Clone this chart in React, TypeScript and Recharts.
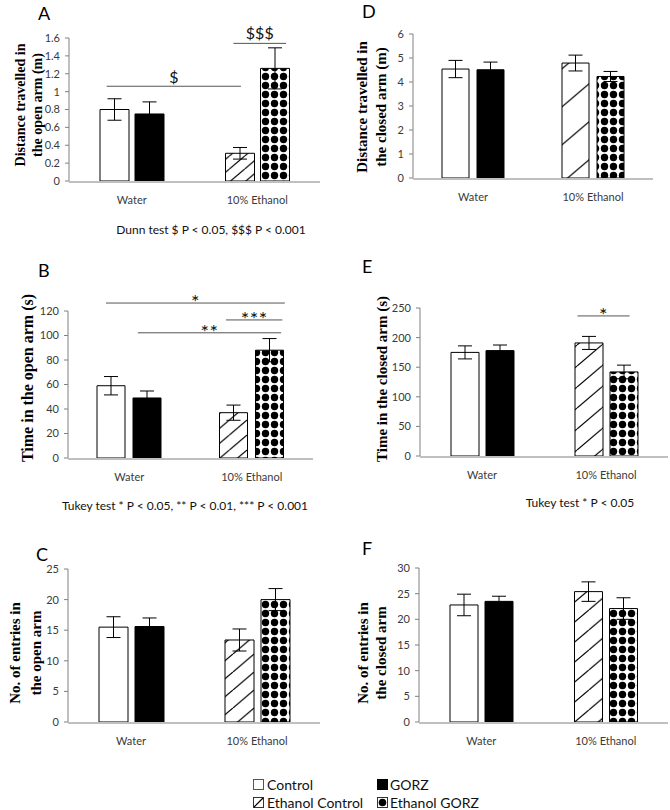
import React from 'react';
import { Bar, BarChart, Cell, ErrorBar, ReferenceDot, ReferenceLine, XAxis, YAxis } from 'recharts';

const groups = ['Water', '10% Ethanol'];

// A: distance travelled in the open arm (m)
const openDistControl = [0.8, 0.31];
const openDistControlErr = [0.12, 0.065];
const openDistGorz = [0.75, 1.26];
const openDistGorzErr = [0.135, 0.23];
const openDistTicks = [0, 0.2, 0.4, 0.6, 0.8, 1, 1.2, 1.4, 1.6];

// D: distance travelled in the closed arm (m)
const closedDistControl = [4.54, 4.79];
const closedDistControlErr = [0.36, 0.33];
const closedDistGorz = [4.51, 4.23];
const closedDistGorzErr = [0.32, 0.21];
const closedDistTicks = [0, 1, 2, 3, 4, 5, 6];

// B: time in the open arm (s)
const openTimeControl = [59, 37];
const openTimeControlErr = [7.5, 6.2];
const openTimeGorz = [49, 88];
const openTimeGorzErr = [5.7, 9.5];
const openTimeTicks = [0, 20, 40, 60, 80, 100, 120];

// E: time in the closed arm (s)
const closedTimeControl = [175, 191];
const closedTimeControlErr = [11, 11];
const closedTimeGorz = [178, 142];
const closedTimeGorzErr = [9.5, 11.5];
const closedTimeTicks = [0, 50, 100, 150, 200, 250];

// C: entries in the open arm
const openEntryControl = [15.5, 13.4];
const openEntryControlErr = [1.7, 1.8];
const openEntryGorz = [15.6, 20];
const openEntryGorzErr = [1.4, 1.8];
const openEntryTicks = [0, 5, 10, 15, 20, 25];

// F: entries in the closed arm
const closedEntryControl = [22.8, 25.4];
const closedEntryControlErr = [2.1, 1.9];
const closedEntryGorz = [23.5, 22.1];
const closedEntryGorzErr = [1.0, 2.1];
const closedEntryTicks = [0, 5, 10, 15, 20, 25, 30];

// significance brackets: from/to on a 0..2 group scale, y in data units
const openDistMarks = [
  { from: 0.3, to: 1.37, y: 1.06, mark: '$' },
  { from: 1.31, to: 1.73, y: 1.54, mark: '$$$' },
];
const openTimeMarks = [
  { from: 0.31, to: 1.77, y: 126.5, mark: '*' },
  { from: 1.29, to: 1.75, y: 112.7, mark: '***' },
  { from: 0.57, to: 1.74, y: 102.2, mark: '**' },
];
const closedTimeMarks = [{ from: 1.27, to: 1.69, y: 236.6, mark: '*' }];

const SANS = 'Lato, "Open Sans", sans-serif';
const SERIF = '"Liberation Serif", "Times New Roman", serif';
const AXIS = '#808080';
const TXT = '#3a3a3a';

type Mark = { from: number; to: number; y: number; mark: string };

function Panel({
  id,
  left,
  top,
  width,
  height,
  margin,
  yWidth,
  barSize,
  barGap,
  hatch,
  control,
  controlErr,
  gorz,
  gorzErr,
  ticks,
  marks = [],
}: {
  id: string;
  left: number;
  top: number;
  width: number;
  height: number;
  margin: { top: number; right: number; bottom: number; left: number };
  yWidth: number;
  barSize: number;
  barGap: number;
  hatch: number;
  control: number[];
  controlErr: number[];
  gorz: number[];
  gorzErr: number[];
  ticks: number[];
  marks?: Mark[];
}) {
  const rows = groups.map((g, i) => ({
    group: g,
    slot: i + 0.5,
    control: control[i],
    controlErr: controlErr[i],
    gorz: gorz[i],
    gorzErr: gorzErr[i],
  }));
  const hw = hatch / 0.85;

  return (
    <div style={{ position: 'absolute', left, top }}>
      <BarChart width={width} height={height} data={rows} margin={margin} barSize={barSize} barGap={barGap}>
        <defs>
          <pattern id={`${id}-hatch`} patternUnits="userSpaceOnUse" width={hw} height={hatch}>
            <rect width={hw} height={hatch} fill="#fff" />
            <line x1={0} y1={hatch} x2={hw} y2={0} stroke="#000" strokeWidth={1.2} />
            <line x1={-hw} y1={hatch} x2={0} y2={0} stroke="#000" strokeWidth={1.2} />
            <line x1={hw} y1={hatch} x2={2 * hw} y2={0} stroke="#000" strokeWidth={1.2} />
          </pattern>
          <pattern id={`${id}-dots`} patternUnits="userSpaceOnUse" width={9} height={9}>
            <rect width={9} height={9} fill="#fff" />
            <circle cx={4.5} cy={4.5} r={3.7} fill="#000" />
          </pattern>
        </defs>
        <XAxis
          dataKey="group"
          height={1}
          interval={0}
          axisLine={false}
          tickLine={false}
          tickMargin={9}
          tick={{ fill: TXT, fontSize: 11, fontFamily: SANS }}
        />
        <XAxis
          xAxisId="n"
          dataKey="slot"
          type="number"
          domain={[0, 2]}
          ticks={[0, 1, 2]}
          allowDataOverflow
          height={1}
          tick={false}
          tickSize={5}
          axisLine={{ stroke: AXIS }}
          tickLine={{ stroke: AXIS }}
        />
        <YAxis
          width={yWidth}
          domain={[0, ticks[ticks.length - 1]]}
          ticks={ticks}
          interval={0}
          allowDataOverflow
          tickSize={4}
          tickMargin={5}
          axisLine={{ stroke: AXIS }}
          tickLine={{ stroke: AXIS }}
          tick={{ fill: TXT, fontSize: 11, fontFamily: SANS }}
        />
        <Bar dataKey="control" stroke="#000" strokeWidth={1} isAnimationActive={false}>
          {rows.map((r, i) => (
            <Cell key={r.group} fill={i === 0 ? '#fff' : `url(#${id}-hatch)`} />
          ))}
          <ErrorBar dataKey="controlErr" width={7} stroke="#000" strokeWidth={1} />
        </Bar>
        <Bar dataKey="gorz" stroke="#000" strokeWidth={1} isAnimationActive={false}>
          {rows.map((r, i) => (
            <Cell key={r.group} fill={i === 0 ? '#000' : `url(#${id}-dots)`} />
          ))}
          <ErrorBar dataKey="gorzErr" width={7} stroke="#000" strokeWidth={1} />
        </Bar>
        {marks.map((m) => (
          <ReferenceLine
            key={`l-${m.mark}`}
            xAxisId="n"
            segment={[
              { x: m.from, y: m.y },
              { x: m.to, y: m.y },
            ]}
            stroke="#555"
            strokeWidth={1}
            ifOverflow="visible"
          />
        ))}
        {marks.map((m) => {
          const dollar = m.mark.startsWith('$');
          return (
            <ReferenceDot
              key={`t-${m.mark}`}
              xAxisId="n"
              x={(m.from + m.to) / 2}
              y={m.y}
              ifOverflow="visible"
              shape={(p: any) => (
                <text
                  x={p.cx}
                  y={p.cy + (dollar ? (m.mark.length > 1 ? -4.4 : -3.4) : 6)}
                  textAnchor="middle"
                  fontFamily={SANS}
                  fontSize={dollar ? 16 : 20}
                  letterSpacing={dollar ? 0 : 0.5}
                  fill="#111"
                >
                  {m.mark}
                </text>
              )}
            />
          );
        })}
      </BarChart>
    </div>
  );
}

function YLabel({ x, y, size, lines }: { x: number[]; y: number; size: number; lines: string[] }) {
  return (
    <>
      {lines.map((t, i) => (
        <text
          key={t}
          transform={`translate(${x[i]},${y}) rotate(-90)`}
          textAnchor="middle"
          dominantBaseline="central"
          fontFamily={SERIF}
          fontWeight="bold"
          fontSize={size}
          fill="#000"
        >
          {t}
        </text>
      ))}
    </>
  );
}

export default function App() {
  const letter = { fontFamily: SANS, fontSize: 18, fill: '#000' };
  const note = { fontFamily: SANS, fontSize: 12, fill: '#111', textAnchor: 'middle' as const };
  const leg = { fontFamily: SANS, fontSize: 14, fill: '#111' };
  return (
    <div style={{ position: 'absolute', left: 0, top: 0, width: 670, height: 810, background: '#fff', overflow: 'hidden' }}>
      <Panel
        id="a"
        left={0}
        top={0}
        width={330}
        height={215}
        margin={{ top: 38, right: 10, bottom: 32, left: 0 }}
        yWidth={69}
        barSize={29}
        barGap={6}
        hatch={13}
        control={openDistControl}
        controlErr={openDistControlErr}
        gorz={openDistGorz}
        gorzErr={openDistGorzErr}
        ticks={openDistTicks}
        marks={openDistMarks}
      />
      <Panel
        id="d"
        left={330}
        top={0}
        width={330}
        height={215}
        margin={{ top: 34, right: 7, bottom: 35, left: 0 }}
        yWidth={83}
        barSize={27}
        barGap={8}
        hatch={38}
        control={closedDistControl}
        controlErr={closedDistControlErr}
        gorz={closedDistGorz}
        gorzErr={closedDistGorzErr}
        ticks={closedDistTicks}
      />
      <Panel
        id="b"
        left={0}
        top={240}
        width={330}
        height={250}
        margin={{ top: 71, right: 17, bottom: 30, left: 0 }}
        yWidth={68}
        barSize={28}
        barGap={8}
        hatch={15}
        control={openTimeControl}
        controlErr={openTimeControlErr}
        gorz={openTimeGorz}
        gorzErr={openTimeGorzErr}
        ticks={openTimeTicks}
        marks={openTimeMarks}
      />
      <Panel
        id="e"
        left={330}
        top={240}
        width={340}
        height={250}
        margin={{ top: 68, right: 2, bottom: 32, left: 0 }}
        yWidth={90}
        barSize={28}
        barGap={7}
        hatch={21}
        control={closedTimeControl}
        controlErr={closedTimeControlErr}
        gorz={closedTimeGorz}
        gorzErr={closedTimeGorzErr}
        ticks={closedTimeTicks}
        marks={closedTimeMarks}
      />
      <Panel
        id="c"
        left={0}
        top={510}
        width={330}
        height={240}
        margin={{ top: 59, right: 10, bottom: 26, left: 0 }}
        yWidth={68}
        barSize={29}
        barGap={7}
        hatch={18}
        control={openEntryControl}
        controlErr={openEntryControlErr}
        gorz={openEntryGorz}
        gorzErr={openEntryGorzErr}
        ticks={openEntryTicks}
      />
      <Panel
        id="f"
        left={330}
        top={510}
        width={340}
        height={240}
        margin={{ top: 58, right: 2, bottom: 26, left: 0 }}
        yWidth={89}
        barSize={28}
        barGap={7}
        hatch={20}
        control={closedEntryControl}
        controlErr={closedEntryControlErr}
        gorz={closedEntryGorz}
        gorzErr={closedEntryGorzErr}
        ticks={closedEntryTicks}
      />

      <svg width={670} height={810} style={{ position: 'absolute', left: 0, top: 0, pointerEvents: 'none' }}>
        <text x={38} y={20} {...letter}>A</text>
        <text x={362} y={18} {...letter}>D</text>
        <text x={38} y={277} {...letter}>B</text>
        <text x={362} y={273} {...letter}>E</text>
        <text x={36} y={561} {...letter}>C</text>
        <text x={362} y={555} {...letter}>F</text>

        <YLabel x={[20, 37]} y={105} size={14} lines={['Distance travelled in', 'the open arm (m)']} />
        <YLabel x={[362, 381]} y={107} size={15} lines={['Distance travelled in', 'the closed arm (m)']} />
        <YLabel x={[27]} y={378} size={16} lines={['Time in the open arm (s)']} />
        <YLabel x={[382]} y={379} size={15} lines={['Time in the closed arm (s)']} />
        <YLabel x={[15, 36]} y={653} size={15} lines={['No. of entries in', 'the open arm']} />
        <YLabel x={[363, 381]} y={653} size={15} lines={['No. of entries in', 'the closed arm']} />

        <text x={211} y={234} {...note}>Dunn test $ P &lt; 0.05, $$$ P &lt; 0.001</text>
        <text x={185} y={510} {...note}>Tukey test * P &lt; 0.05, ** P &lt; 0.01, *** P &lt; 0.001</text>
        <text x={580} y={507} {...note}>Tukey test * P &lt; 0.05</text>

        <rect x={253.5} y={779.5} width={10} height={10} fill="#fff" stroke="#555" />
        <text x={267} y={790} {...leg}>Control</text>
        <rect x={377.5} y={779.5} width={10} height={10} fill="#000" stroke="#000" />
        <text x={390} y={790} {...leg}>GORZ</text>
        <rect x={253.5} y={797.5} width={10} height={10} fill="#fff" stroke="#333" />
        <line x1={254} y1={807} x2={263} y2={798} stroke="#000" strokeWidth={1.2} />
        <text x={267} y={808} {...leg}>Ethanol Control</text>
        <rect x={377.5} y={797.5} width={10} height={10} fill="#fff" stroke="#333" />
        <circle cx={382.5} cy={802.5} r={3.8} fill="#000" />
        <text x={390} y={808} {...leg}>Ethanol GORZ</text>
      </svg>
    </div>
  );
}
